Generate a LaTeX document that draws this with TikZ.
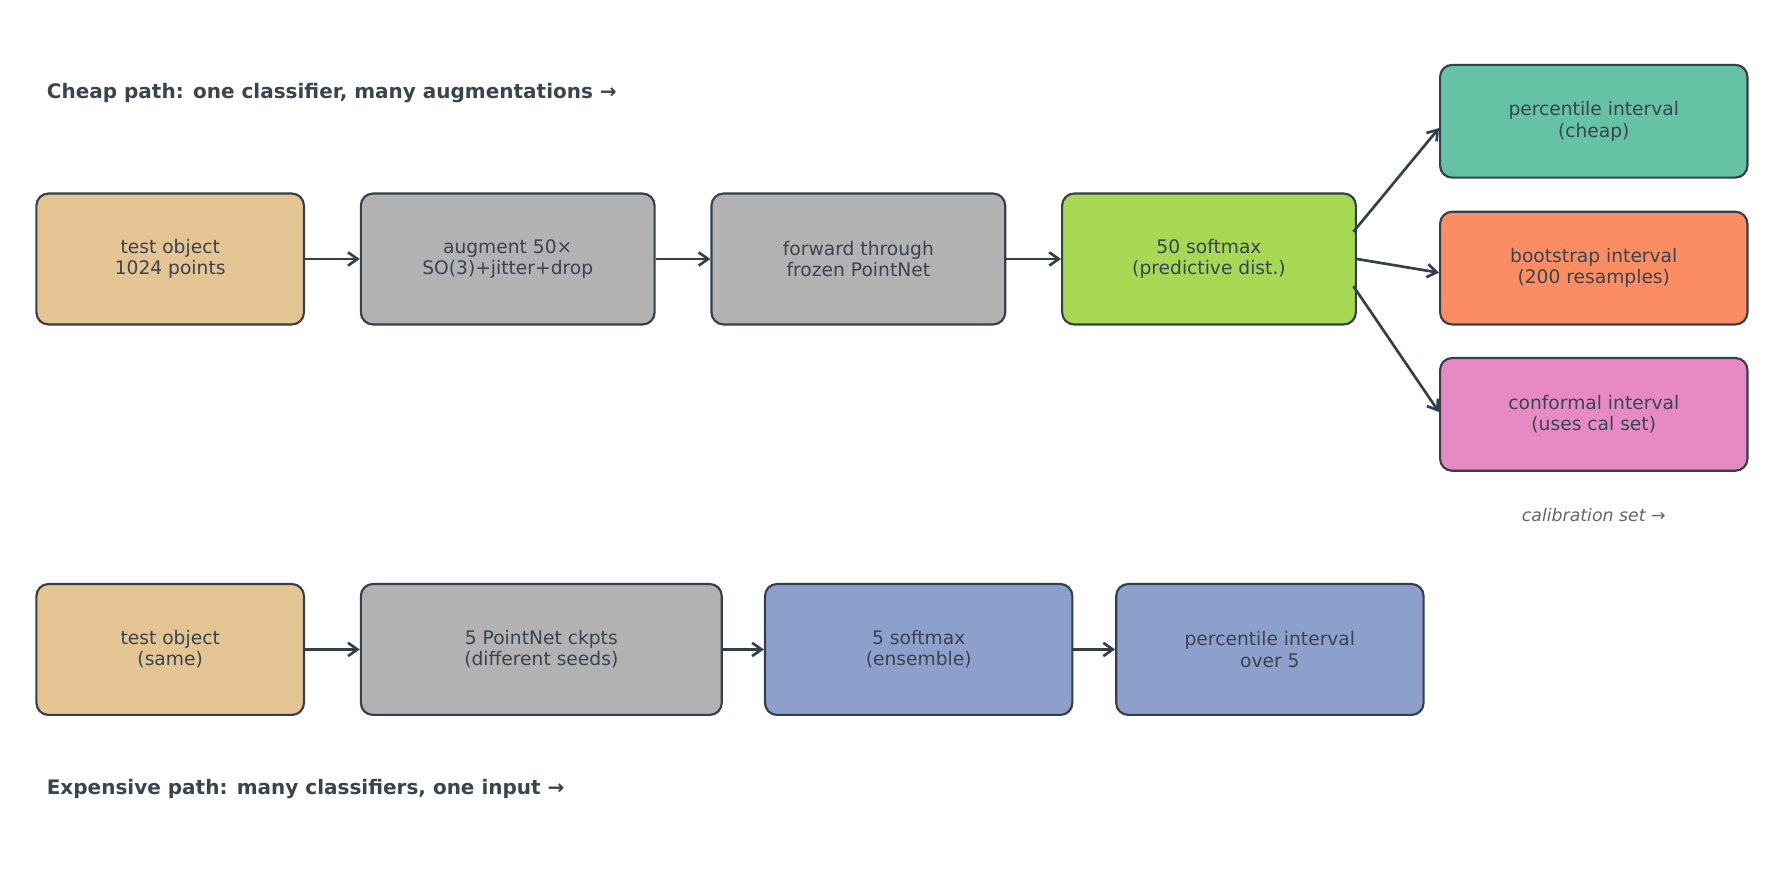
\documentclass[tikz,border=0pt]{standalone}
\usepackage{fontspec}
\setmainfont{DejaVu Sans}
\usetikzlibrary{positioning, arrows.meta, calc}
\definecolor{edge}{HTML}{333F4A}
\definecolor{ink}{HTML}{3A4450}
\definecolor{tan}{HTML}{E3C492}
\definecolor{grey}{HTML}{B2B2B2}
\definecolor{lime}{HTML}{A6D854}
\definecolor{teal}{HTML}{66C2A5}
\definecolor{peach}{HTML}{FC8D62}
\definecolor{pink}{HTML}{E78AC3}
\definecolor{slate}{HTML}{8DA0CB}
\begin{document}
\begin{tikzpicture}[
    x=0.03cm, y=-0.03cm,
    box/.style={draw=edge, line width=1.6pt, rounded corners=9pt, align=center, text=ink,
      font=\fontsize{14}{16}\selectfont, minimum height=3.45cm, inner sep=0pt},
    side/.style={box, minimum width=8.1cm, minimum height=2.97cm},
    arrow/.style={-{Straight Barb[length=2.5mm, width=3.5mm]}, line width=2pt, draw=edge},
    title/.style={anchor=west, font=\fontsize{15}{18}\selectfont\bfseries, text=ink}
]
\useasboundingbox (0,0) rectangle (1568,777);

% Cheap path
\node[title] at (37,82) {Cheap path: one classifier, many augmentations →};
\node[box, fill=tan, minimum width=7.05cm] (obj) at (149.5,227.5) {test object\\1024 points};
\node[box, fill=grey, minimum width=7.74cm] (aug) at (446,227.5) {augment 50×\\SO(3)+jitter+drop};
\node[box, fill=grey, minimum width=7.74cm] (fwd) at (754,227.5) {forward through\\frozen PointNet};
\node[box, fill=lime, minimum width=7.74cm] (soft) at (1062,227.5) {50 softmax\\(predictive dist.)};
\node[side, fill=teal] (pct) at (1400,106.5) {percentile interval\\(cheap)};
\node[side, fill=peach] (boot) at (1400,235.5) {bootstrap interval\\(200 resamples)};
\node[side, fill=pink] (conf) at (1400,364) {conformal interval\\(uses cal set)};
\node[font=\fontsize{13}{15}\selectfont\itshape, text=black!60] (cal) at (1400,452) {calibration set →};

\draw[arrow] (obj) -- (aug);
\draw[arrow] (aug) -- (fwd);
\draw[arrow] (fwd) -- (soft);
\draw[arrow] ($(soft.east)+(-3,-24)$) -- ($(pct.west)+(0,6)$);
\draw[arrow] (soft.east) -- ($(boot.west)+(0,4)$);
\draw[arrow] ($(soft.east)+(-3,24)$) -- ($(conf.west)+(0,-2)$);

% Expensive path
\node[box, fill=tan, minimum width=7.05cm] (same) at (149.5,570.5) {test object\\(same)};
\node[box, fill=grey, minimum width=9.51cm] (ckpt) at (475.5,570.5) {5 PointNet ckpts\\(different seeds)};
\node[box, fill=slate, minimum width=8.1cm] (ens) at (807,570.5) {5 softmax\\(ensemble)};
\node[box, fill=slate, minimum width=8.1cm] (over) at (1115.5,570.5) {percentile interval\\over 5};
\node[title] at (37,693) {Expensive path: many classifiers, one input →};

\draw[arrow] (same) -- (ckpt);
\draw[arrow] (ckpt) -- (ens);
\draw[arrow] (ens) -- (over);
\end{tikzpicture}
\end{document}
